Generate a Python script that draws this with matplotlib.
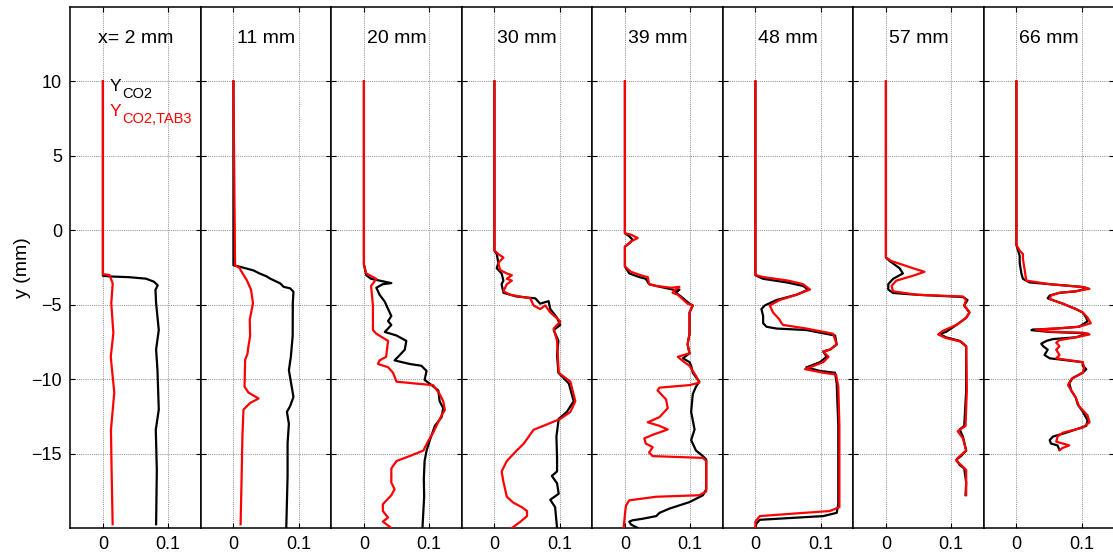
import matplotlib
matplotlib.use("Agg")
import matplotlib.pyplot as plt
import numpy as np

plt.rcParams['font.family'] = ['Liberation Sans', 'DejaVu Sans']

# ---------------- data (y in mm, Y value) ----------------
PANEL_LABELS = ["x= 2 mm", "11 mm", "20 mm", "30 mm", "39 mm", "48 mm", "57 mm", "66 mm"]
X_TICKS = [0, 0.1]
X_TICKLABELS = ["0", "0.1"]
Y_TICKS = [-15, -10, -5, 0, 5, 10]
Y_TICKLABELS = ["\u221215", "\u221210", "\u22125", "0", "5", "10"]
LEGEND_MAIN = ["Y", "Y"]
LEGEND_SUB = ["CO2", "CO2,TAB3"]

# each list: (y, Y)
P1_CO2 = [(10, 0), (-3.05, 0), (-3.1, 0.01), (-3.15, 0.04), (-3.25, 0.066), (-3.45, 0.078), (-3.7, 0.084),
          (-4.0, 0.0805), (-4.9, 0.0815), (-6.7, 0.0856), (-8.0, 0.0815), (-9.4, 0.0836), (-12.05, 0.0856),
          (-13.4, 0.081), (-16.1, 0.0826), (-19.75, 0.0815)]
P1_TAB3 = [(10, 0), (-2.95, 0), (-3.0, 0.01), (-3.57, 0.015), (-4.9, 0.0128), (-6.9, 0.016), (-8.5, 0.012),
           (-10.9, 0.0174), (-13.4, 0.0123), (-16.1, 0.0133), (-19.75, 0.0149)]

P2_CO2 = [(10, 0), (-2.35, 0), (-2.45, 0.01), (-2.7, 0.031), (-2.9, 0.04), (-3.1, 0.051), (-3.24, 0.056),
          (-3.57, 0.0718), (-3.8, 0.077), (-3.9, 0.087), (-4.13, 0.092), (-4.9, 0.091), (-7.1, 0.0908),
          (-8.5, 0.088), (-9.4, 0.085), (-11.2, 0.092), (-11.8, 0.087), (-12.2, 0.082), (-13.0, 0.085),
          (-14.3, 0.083), (-16.5, 0.083), (-19.97, 0.081)]
P2_TAB3 = [(10, 0), (-2.35, 0.0025), (-2.55, 0.01), (-2.68, 0.011), (-3.35, 0.0205), (-4.0, 0.027),
           (-4.9, 0.03), (-6.0, 0.025), (-7.1, 0.0256), (-7.8, 0.023), (-8.3, 0.0215), (-8.7, 0.018),
           (-10.5, 0.017), (-10.9, 0.023), (-11.3, 0.0385), (-11.6, 0.0256), (-12.05, 0.0154),
           (-13.8, 0.0138), (-16.1, 0.0128), (-19.75, 0.011)]

P3_CO2 = [(10, 0), (-2.3, 0), (-3.02, 0.0036), (-3.26, 0.011), (-3.38, 0.024), (-3.55, 0.042), (-3.62, 0.029),
          (-3.86, 0.019), (-4.33, 0.024), (-4.8, 0.032), (-5.29, 0.037), (-5.76, 0.042), (-6.1, 0.037),
          (-6.36, 0.042), (-6.83, 0.032), (-7.07, 0.05), (-7.43, 0.065), (-8.02, 0.0626), (-8.38, 0.055),
          (-8.74, 0.047), (-8.98, 0.07), (-9.1, 0.088), (-9.45, 0.096), (-10.05, 0.093), (-10.4, 0.1036),
          (-10.76, 0.114), (-11.48, 0.116), (-11.95, 0.1215), (-12.55, 0.119), (-13.14, 0.1087),
          (-14.1, 0.101), (-14.8, 0.096), (-15.5, 0.093), (-16.7, 0.0918), (-17.9, 0.0923), (-20, 0.0897)]
P3_TAB3 = [(10, 0), (-2.3, 0), (-2.9, 0.0036), (-3.14, 0.0138), (-3.26, 0.019), (-3.74, 0.011),
           (-5.05, 0.0138), (-6.7, 0.0138), (-6.95, 0.019), (-7.43, 0.037), (-8.5, 0.034), (-8.74, 0.024),
           (-8.98, 0.0215), (-9.2, 0.037), (-9.57, 0.0446), (-10.17, 0.05), (-10.3, 0.08), (-10.4, 0.106),
           (-11.0, 0.116), (-11.48, 0.1215), (-12.07, 0.124), (-12.43, 0.119), (-13.6, 0.106), (-14.2, 0.098),
           (-14.8, 0.091), (-15.17, 0.070), (-15.5, 0.05), (-16.0, 0.042), (-16.95, 0.042), (-17.4, 0.047),
           (-17.8, 0.042), (-18.4, 0.029), (-18.86, 0.029), (-19.3, 0.037), (-19.57, 0.029), (-20, 0.042)]

P4_CO2 = [(10, 0), (-1.36, 0), (-1.6, 0.0036), (-2.19, 0.006), (-2.55, 0.0036), (-2.9, 0.011), (-3.38, 0.0138),
          (-3.62, 0.011), (-4.2, 0.0138), (-4.45, 0.034), (-4.57, 0.0626), (-4.93, 0.07), (-4.76, 0.083),
          (-5.29, 0.0856), (-5.88, 0.096), (-6.36, 0.101), (-6.7, 0.0908), (-7.43, 0.098), (-8.38, 0.096),
          (-9.57, 0.098), (-10.29, 0.114), (-11.48, 0.1215), (-12.2, 0.111), (-12.67, 0.0985),
          (-13.86, 0.095), (-15.3, 0.096), (-16.2, 0.096), (-16.5, 0.088), (-17.0, 0.096), (-17.7, 0.0985),
          (-18.1, 0.0856), (-18.6, 0.093), (-20, 0.096)]
P4_TAB3 = [(10, 0), (-1.36, 0), (-1.6, 0.006), (-1.83, 0.0138), (-2.19, 0.006), (-2.67, 0.0087), (-2.9, 0.019),
           (-3.02, 0.0267), (-3.26, 0.019), (-3.38, 0.0267), (-3.62, 0.019), (-4.1, 0.0138), (-4.33, 0.024),
           (-4.57, 0.055), (-5.05, 0.06), (-5.29, 0.07), (-5.05, 0.078), (-5.52, 0.0856), (-6.12, 0.101),
           (-6.6, 0.0908), (-7.43, 0.096), (-9.57, 0.0985), (-10.17, 0.1164), (-11.48, 0.124),
           (-12.2, 0.1164), (-12.67, 0.101), (-13.14, 0.075), (-13.4, 0.06), (-14.33, 0.045),
           (-14.8, 0.034), (-15.5, 0.019), (-16.2, 0.011), (-16.9, 0.0138), (-17.9, 0.019), (-18.3, 0.029),
           (-18.6, 0.042), (-18.86, 0.05), (-19.2, 0.05), (-19.57, 0.04), (-20, 0.0267)]

P5_CO2 = [(10, 0), (-0.2, 0), (-0.4, 0.0067), (-0.64, 0.0118), (-0.88, 0.0067), (-1.1, 0), (-2.43, 0),
          (-2.9, 0.0067), (-3.14, 0.022), (-3.26, 0.032), (-3.62, 0.037), (-3.74, 0.048), (-3.98, 0.073),
          (-4.1, 0.078), (-3.98, 0.0836), (-4.2, 0.078), (-4.45, 0.086), (-4.93, 0.099), (-5.05, 0.104),
          (-5.52, 0.099), (-6.95, 0.099), (-7.67, 0.096), (-8.26, 0.099), (-8.6, 0.089), (-8.86, 0.099),
          (-9.1, 0.1015), (-9.57, 0.104), (-10.17, 0.114), (-10.5, 0.109), (-11.0, 0.104), (-12.2, 0.1015),
          (-13.38, 0.1067), (-14.1, 0.1015), (-14.8, 0.109), (-15.17, 0.1195), (-15.4, 0.1246),
          (-17.4, 0.1246), (-17.8, 0.1195), (-18.26, 0.099), (-18.7, 0.068), (-18.98, 0.053), (-19.2, 0.048),
          (-19.38, 0.027), (-19.48, 0.0118), (-19.57, 0.0067), (-19.76, 0.0092), (-20, 0.0195)]
P5_TAB3 = [(10, 0), (-0.2, 0), (-0.29, 0.0092), (-0.52, 0.0195), (-0.76, 0.0092), (-1.1, 0), (-2.43, 0),
           (-2.79, 0.0092), (-3.1, 0.03), (-3.14, 0.035), (-3.62, 0.037), (-3.74, 0.048), (-3.86, 0.071),
           (-3.8, 0.0836), (-4.05, 0.076), (-4.2, 0.073), (-4.33, 0.081), (-4.93, 0.096), (-5.05, 0.104),
           (-5.52, 0.099), (-6.95, 0.099), (-7.67, 0.096), (-8.26, 0.099), (-8.5, 0.081), (-8.86, 0.091),
           (-9.1, 0.099), (-9.8, 0.109), (-10.24, 0.114), (-10.4, 0.099), (-10.57, 0.053), (-10.76, 0.05),
           (-11.36, 0.063), (-11.95, 0.0656), (-12.55, 0.053), (-12.9, 0.035), (-13.14, 0.053),
           (-13.38, 0.0656), (-13.74, 0.0426), (-13.98, 0.0297), (-14.33, 0.032), (-14.57, 0.0426),
           (-14.93, 0.037), (-15.17, 0.0426), (-15.29, 0.1195), (-15.5, 0.1246), (-17.55, 0.1246),
           (-17.8, 0.114), (-17.9, 0.048), (-18.14, 0.0067), (-18.5, 0.0015), (-19.1, 0), (-20, -0.002)]

P6_CO2 = [(10, 0), (-3.02, 0), (-3.26, 0.0118), (-3.5, 0.048), (-3.74, 0.073), (-3.98, 0.081), (-4.33, 0.063),
          (-4.69, 0.032), (-5.05, 0.0144), (-5.29, 0.0092), (-5.76, 0.0118), (-6.24, 0.0118), (-6.48, 0.017),
          (-6.6, 0.032), (-6.7, 0.078), (-7.07, 0.122), (-7.67, 0.1246), (-8.02, 0.1144), (-8.14, 0.104),
          (-8.5, 0.109), (-8.86, 0.099), (-9.21, 0.078), (-9.45, 0.099), (-9.57, 0.122), (-10.29, 0.1246),
          (-13.14, 0.127), (-18.38, 0.127), (-18.98, 0.1246), (-19.2, 0.104), (-19.33, 0.053),
          (-19.45, 0.0067), (-19.7, 0.0015), (-20, 0)]
P6_TAB3 = [(10, 0), (-3.0, 0), (-3.14, 0.0118), (-3.38, 0.05), (-3.62, 0.073), (-3.98, 0.0836), (-4.33, 0.063),
           (-4.69, 0.037), (-5.05, 0.022), (-5.52, 0.027), (-6.0, 0.037), (-6.24, 0.04), (-6.36, 0.0426),
           (-6.6, 0.078), (-6.95, 0.119), (-7.67, 0.1246), (-8.02, 0.114), (-8.14, 0.104), (-8.5, 0.112),
           (-8.86, 0.104), (-9.33, 0.076), (-9.57, 0.104), (-9.69, 0.1236), (-10.5, 0.127), (-13.14, 0.1287),
           (-18.6, 0.1287), (-18.86, 0.114), (-19.05, 0.053), (-19.2, 0.0067), (-19.57, 0), (-20, 0)]

P7_CO2 = [(10, 0), (-1.83, 0), (-2.07, 0.006), (-2.55, 0.021), (-2.9, 0.026), (-3.26, 0.011), (-3.62, 0.0036),
          (-3.98, 0.0036), (-4.21, 0.011), (-4.33, 0.047), (-4.48, 0.118), (-4.69, 0.125), (-5.05, 0.12),
          (-5.52, 0.128), (-5.88, 0.123), (-6.36, 0.108), (-6.83, 0.092), (-6.95, 0.082), (-7.19, 0.092),
          (-7.43, 0.113), (-7.79, 0.123), (-10.76, 0.123), (-13.14, 0.12), (-13.38, 0.113), (-13.86, 0.118),
          (-14.8, 0.123), (-15.17, 0.115), (-15.4, 0.108), (-15.76, 0.113), (-16.0, 0.12), (-16.95, 0.123),
          (-17.79, 0.122)]
P7_TAB3 = [(10, 0), (-1.83, 0), (-2.07, 0.0086), (-2.55, 0.0416), (-2.79, 0.059), (-3.02, 0.044),
           (-3.38, 0.016), (-3.74, 0.0086), (-4.1, 0.011), (-4.33, 0.047), (-4.45, 0.118), (-4.69, 0.123),
           (-5.05, 0.12), (-5.52, 0.128), (-5.88, 0.123), (-6.36, 0.108), (-6.76, 0.087), (-7.0, 0.08),
           (-7.24, 0.092), (-7.48, 0.115), (-7.79, 0.123), (-10.76, 0.124), (-13.14, 0.122), (-13.5, 0.110),
           (-13.98, 0.118), (-14.8, 0.123), (-15.29, 0.110), (-15.5, 0.108), (-15.76, 0.115), (-16.1, 0.123),
           (-17.79, 0.123)]

P8_CO2 = [(10, 0), (-1.0, 0), (-1.36, 0.0025), (-1.71, 0.005), (-2.19, 0.005), (-2.9, 0.0076), (-3.26, 0.01),
          (-3.5, 0.02), (-3.62, 0.051), (-3.81, 0.1015), (-3.9, 0.109), (-4.1, 0.091), (-4.2, 0.066),
          (-4.38, 0.051), (-4.57, 0.048), (-4.93, 0.071), (-5.29, 0.091), (-5.52, 0.1015), (-5.88, 0.107),
          (-6.12, 0.109), (-6.48, 0.096), (-6.6, 0.061), (-6.67, 0.025), (-6.71, 0.023), (-6.83, 0.051),
          (-6.9, 0.096), (-6.95, 0.11), (-7.19, 0.091), (-7.31, 0.056), (-7.43, 0.046), (-7.62, 0.038),
          (-7.79, 0.041), (-8.02, 0.048), (-8.38, 0.043), (-8.6, 0.051), (-8.86, 0.1015), (-9.1, 0.1015),
          (-9.33, 0.107), (-9.57, 0.1015), (-9.93, 0.086), (-10.29, 0.081), (-10.76, 0.084), (-11.24, 0.091),
          (-11.7, 0.094), (-12.17, 0.1015), (-12.76, 0.109), (-13.14, 0.107), (-13.6, 0.076),
          (-13.86, 0.056), (-14.1, 0.051), (-14.33, 0.053), (-14.45, 0.063), (-14.76, 0.066)]
P8_TAB3 = [(10, 0), (-1.0, 0), (-1.36, 0.005), (-1.6, 0.01), (-1.95, 0.01), (-2.67, 0.0127), (-3.38, 0.015),
           (-3.62, 0.051), (-3.81, 0.1015), (-3.93, 0.112), (-4.1, 0.091), (-4.2, 0.066), (-4.38, 0.053),
           (-4.62, 0.051), (-4.93, 0.071), (-5.29, 0.091), (-5.52, 0.1015), (-5.81, 0.108), (-6.24, 0.114),
           (-6.48, 0.096), (-6.6, 0.061), (-6.67, 0.03), (-6.81, 0.051), (-6.88, 0.1015), (-7.0, 0.112),
           (-7.19, 0.091), (-7.38, 0.066), (-7.55, 0.061), (-7.79, 0.066), (-8.02, 0.061), (-8.38, 0.066),
           (-8.6, 0.061), (-8.86, 0.1015), (-9.21, 0.104), (-9.57, 0.1015), (-10.0, 0.084), (-10.4, 0.079),
           (-10.76, 0.084), (-11.24, 0.091), (-11.83, 0.096), (-12.43, 0.109), (-12.9, 0.112),
           (-13.26, 0.1015), (-13.6, 0.071), (-13.86, 0.063), (-14.2, 0.061), (-14.45, 0.081),
           (-14.62, 0.071), (-14.76, 0.066)]

CO2_SERIES = [P1_CO2, P2_CO2, P3_CO2, P4_CO2, P5_CO2, P6_CO2, P7_CO2, P8_CO2]
TAB3_SERIES = [P1_TAB3, P2_TAB3, P3_TAB3, P4_TAB3, P5_TAB3, P6_TAB3, P7_TAB3, P8_TAB3]
SERIES_COLORS = ['black', '#ff0000']

# ---------------- figure ----------------
W, H, DPI = 1113, 557, 100
fig = plt.figure(figsize=(W / DPI, H / DPI), dpi=DPI)

left_px, top_px, bottom_px = 70.3, 7, 528
panel_w_px = 130.5
FS_TICK = 13
FS_TITLE = 14

axes = []
for i in range(8):
    l = (left_px + i * panel_w_px) / W
    ax = fig.add_axes([l, (H - bottom_px) / H, panel_w_px / W, (bottom_px - top_px) / H])
    axes.append(ax)
    ax.set_xlim(-0.05, 0.15)
    ax.set_ylim(-20, 15)
    ax.set_xticks(X_TICKS)
    ax.set_xticklabels(X_TICKLABELS, fontsize=FS_TICK)
    ax.set_yticks(Y_TICKS)
    if i == 0:
        ax.set_yticklabels(Y_TICKLABELS, fontsize=FS_TICK)
        ax.set_ylabel("y (mm)", fontsize=14)
    else:
        ax.set_yticklabels([])
    ax.tick_params(direction='in', length=3.5, width=0.8, top=True, right=True, pad=6,
                   colors='black')
    ax.grid(True, linestyle=(0, (1, 1.2)), color='#8c8c8c', linewidth=0.7)
    ax.set_axisbelow(True)
    for sp in ax.spines.values():
        sp.set_linewidth(1.1)
        sp.set_color('black')

    cy, cx = zip(*CO2_SERIES[i])
    ry, rx = zip(*TAB3_SERIES[i])
    ax.plot(cx, cy, color=SERIES_COLORS[0], lw=1.6, solid_joinstyle='round', zorder=3)
    ax.plot(rx, ry, color=SERIES_COLORS[1], lw=1.6, solid_joinstyle='round', zorder=4)

    ax.text(0.5, 12.61, PANEL_LABELS[i], transform=ax.get_yaxis_transform(),
            ha='center', va='baseline', fontsize=FS_TITLE)

axes[0].yaxis.set_label_coords(-0.3, 0.5)

# legend-like labels (main letter + subscript)
leg_base_y = [9.38, 7.70]
for k in range(2):
    axes[0].text(0.0097, leg_base_y[k], LEGEND_MAIN[k], color=SERIES_COLORS[k],
                 fontsize=12.5, va='baseline', ha='left')
    axes[0].text(0.0295, leg_base_y[k] - 0.52, LEGEND_SUB[k], color=SERIES_COLORS[k],
                 fontsize=10.5, va='baseline', ha='left')

fig.savefig("out.png", dpi=DPI)
